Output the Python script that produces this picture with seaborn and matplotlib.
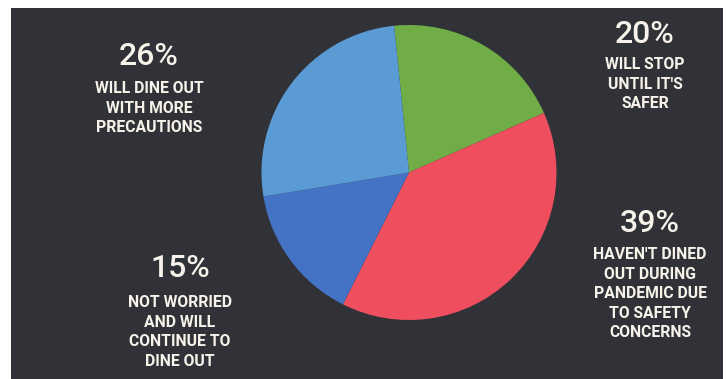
import matplotlib
matplotlib.use("Agg")
import matplotlib.pyplot as plt
import seaborn as sns
from matplotlib.patches import Rectangle

# ---- data ----
categories = ["Will stop until it's safer",
              "Haven't dined out during pandemic due to safety concerns",
              "Not worried and will continue to dine out",
              "Will dine out with more precautions"]
values = [20, 39, 15, 26]
pct_labels = ["20%", "39%", "15%", "26%"]
desc_labels = ["WILL STOP\nUNTIL IT'S\nSAFER",
               "HAVEN'T DINED\nOUT DURING\nPANDEMIC DUE\nTO SAFETY\nCONCERNS",
               "NOT WORRIED\nAND WILL\nCONTINUE TO\nDINE OUT",
               "WILL DINE OUT\nWITH MORE\nPRECAUTIONS"]
colors = sns.color_palette(["#70ad47", "#ee4e5e", "#4472c4", "#5b9bd5"])

sns.set_theme(style="white")
plt.rcParams['font.family'] = ['Roboto', 'DejaVu Sans']

W, H = 726, 379
fig = plt.figure(figsize=(W / 100, H / 100), dpi=100)
fig.patch.set_facecolor("white")
ax = fig.add_axes([0, 0, 1, 1])
ax.set_xlim(0, W)
ax.set_ylim(0, H)
ax.set_aspect("equal")
ax.axis("off")

# dark slate background panel
ax.add_patch(Rectangle((11, 0), 712, H - 8, facecolor="#313237", edgecolor="none", zorder=0))

ax.pie(values, colors=colors, startangle=95.8, counterclock=False,
       center=(409, H - 172.5), radius=147.5,
       wedgeprops=dict(linewidth=0), frame=True)
ax.set_xlim(0, W)
ax.set_ylim(0, H)
ax.axis("off")

txt_color = "#f7f3ea"
# (x center, y of pct center in px, y of first desc line top in px)
pos = [(645, 34.5, 57), (650, 223.5, 247), (180, 268.5, 295), (149, 56.5, 81)]
for (x, ypct, ytop), p, d in zip(pos, pct_labels, desc_labels):
    ax.text(x, H - ypct, p, ha="center", va="center", color=txt_color,
            fontsize=23, fontweight="medium", zorder=5)
    ax.text(x, H - ytop, d, ha="center", va="top", color=txt_color,
            fontsize=11.3, fontweight="bold", linespacing=1.38, zorder=5)

fig.savefig("out.png", dpi=100, facecolor=fig.get_facecolor())
